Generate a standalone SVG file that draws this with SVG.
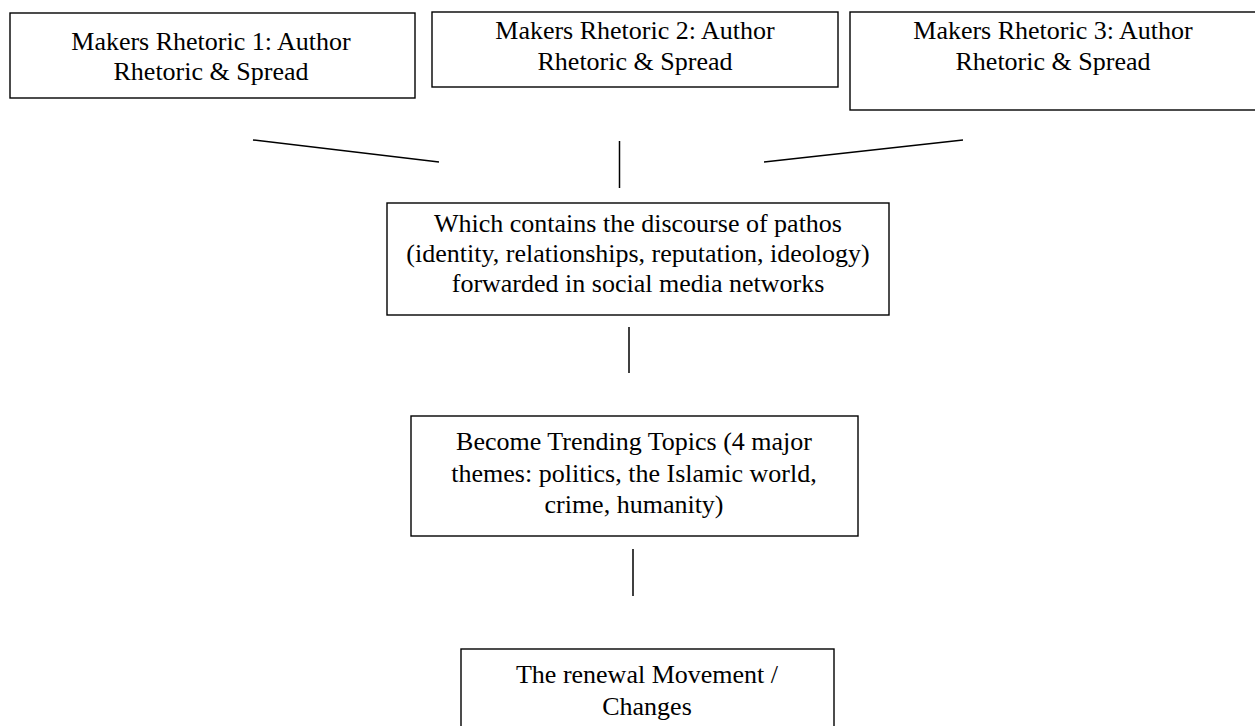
<svg xmlns="http://www.w3.org/2000/svg" width="1255" height="726" viewBox="0 0 1255 726">
  <style>
    .box { fill: #ffffff; stroke: #000000; stroke-width: 1.4; }
    .lbl { font-family: "Liberation Serif", "Times New Roman", serif; font-size: 26px; fill: #000000; text-anchor: middle; }
    .link { stroke: #000000; stroke-width: 1.5; fill: none; }
  </style>
  <rect width="1255" height="726" fill="#ffffff"/>

  <!-- plain joining strokes between the stages -->
  <g id="connectors">
    <line class="link" x1="253" y1="140" x2="439" y2="162"/>
    <line class="link" x1="619.5" y1="141" x2="619.5" y2="188"/>
    <line class="link" x1="764" y1="162" x2="963" y2="140"/>
    <line class="link" x1="629" y1="327" x2="629" y2="373"/>
    <line class="link" x1="633" y1="549" x2="633" y2="596"/>
  </g>

  <g id="maker1">
    <rect class="box" x="10" y="13" width="405" height="85"/>
    <text class="lbl" x="211" y="50">Makers Rhetoric 1: Author</text>
    <text class="lbl" x="211" y="80">Rhetoric &amp; Spread</text>
  </g>

  <g id="maker2">
    <rect class="box" x="432" y="12" width="406" height="75"/>
    <text class="lbl" x="635" y="39">Makers Rhetoric 2: Author</text>
    <text class="lbl" x="635" y="70">Rhetoric &amp; Spread</text>
  </g>

  <!-- third box runs past the right edge of the page -->
  <g id="maker3">
    <rect class="box" x="850" y="12" width="410" height="98"/>
    <text class="lbl" x="1053" y="39">Makers Rhetoric 3: Author</text>
    <text class="lbl" x="1053" y="70">Rhetoric &amp; Spread</text>
  </g>

  <g id="pathos">
    <rect class="box" x="387" y="203" width="502" height="112"/>
    <text class="lbl" x="638" y="232">Which contains the discourse of pathos</text>
    <text class="lbl" x="638" y="262">(identity, relationships, reputation, ideology)</text>
    <text class="lbl" x="638" y="292">forwarded in social media networks</text>
  </g>

  <g id="trending">
    <rect class="box" x="411" y="416" width="447" height="120"/>
    <text class="lbl" x="634" y="450">Become Trending Topics (4 major</text>
    <text class="lbl" x="634" y="482">themes: politics, the Islamic world,</text>
    <text class="lbl" x="634" y="513">crime, humanity)</text>
  </g>

  <g id="renewal">
    <rect class="box" x="461" y="649" width="373" height="90"/>
    <text class="lbl" x="647" y="683">The renewal Movement /</text>
    <text class="lbl" x="647" y="715">Changes</text>
  </g>
</svg>
